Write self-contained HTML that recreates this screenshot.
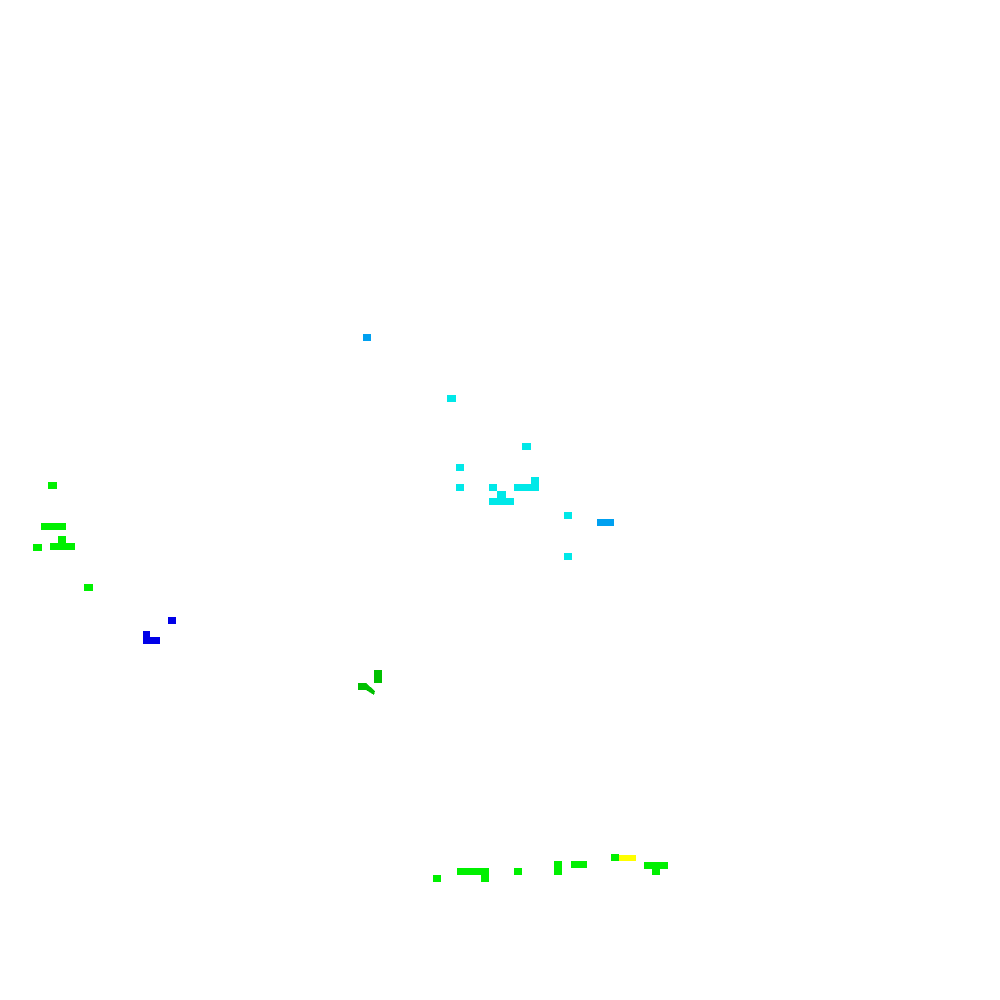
<!DOCTYPE html>
<html><head><meta charset="utf-8"><style>html,body{margin:0;padding:0;background:#fff;width:1000px;height:1000px;overflow:hidden}</style></head>
<body>
<svg width="1000" height="1000" xmlns="http://www.w3.org/2000/svg" shape-rendering="crispEdges">
<rect width="1000" height="1000" fill="#fff"/>
<g fill="#00a0f0">
<rect x="363" y="334" width="8" height="7"/>
<rect x="597" y="519" width="17" height="7"/>
</g>
<g fill="#00e8e8">
<rect x="447" y="395" width="9" height="7"/>
<rect x="522" y="443" width="9" height="7"/>
<rect x="456" y="464" width="8" height="7"/>
<rect x="456" y="484" width="8" height="7"/>
<rect x="489" y="484" width="8" height="7"/>
<rect x="497" y="491" width="9" height="7"/>
<rect x="489" y="498" width="25" height="7"/>
<rect x="514" y="484" width="25" height="7"/>
<rect x="531" y="477" width="8" height="7"/>
<rect x="564" y="512" width="8" height="7"/>
<rect x="564" y="553" width="8" height="7"/>
</g>
<g fill="#00f000">
<rect x="48" y="482" width="9" height="7"/>
<rect x="41" y="523" width="25" height="7"/>
<rect x="58" y="536" width="8" height="7"/>
<rect x="50" y="543" width="25" height="7"/>
<rect x="33" y="544" width="9" height="7"/>
<rect x="84" y="584" width="9" height="7"/>
<rect x="433" y="875" width="8" height="7"/>
<rect x="457" y="868" width="32" height="7"/>
<rect x="481" y="875" width="8" height="7"/>
<rect x="514" y="868" width="8" height="7"/>
<rect x="554" y="861" width="8" height="14"/>
<rect x="571" y="861" width="16" height="7"/>
<rect x="611" y="854" width="8" height="7"/>
<rect x="644" y="862" width="24" height="7"/>
<rect x="652" y="869" width="8" height="6"/>
</g>
<rect x="619" y="855" width="17" height="6" fill="#ffff00"/>
<g fill="#0000e8">
<rect x="168" y="617" width="8" height="7"/>
<rect x="143" y="631" width="7" height="7"/>
<rect x="143" y="637" width="17" height="7"/>
</g>
<g fill="#00c000">
<rect x="374" y="670" width="8" height="13"/>
<polygon points="358,683 366,683 375,691 374,695 366,690 358,690"/>
</g>
</svg>
</body></html>
